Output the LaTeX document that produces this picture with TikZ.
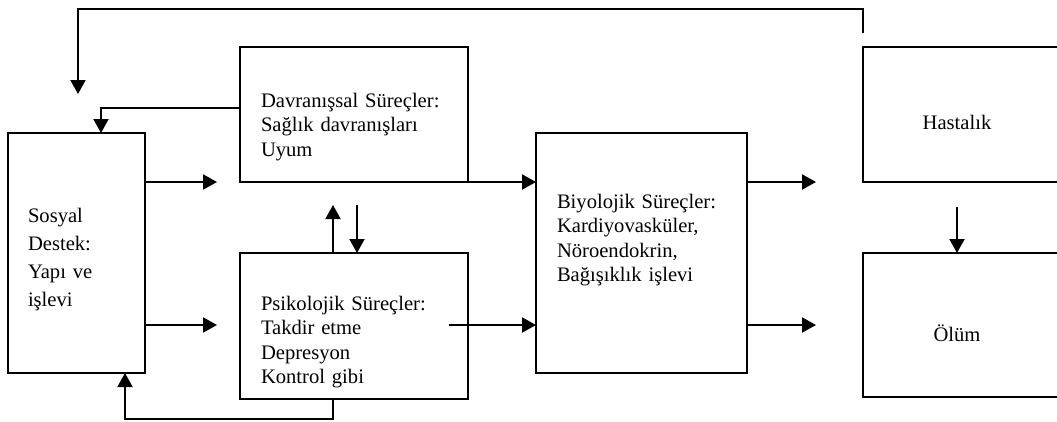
\documentclass[tikz,border=0pt]{standalone}
\usepackage{fontspec}
\setmainfont{Liberation Serif}
\usetikzlibrary{arrows.meta,calc}
\begin{document}
\begin{tikzpicture}[x=1pt,y=-1pt,line width=2pt,
  box/.style n args={2}{draw,line width=2pt,inner sep=0pt,outer sep=0pt,anchor=north west,minimum width=#1,minimum height=#2},
  txt/.style={inner sep=0pt,align=left,text width=220pt,anchor=base west,font=\fontsize{20.6}{24.5}\selectfont},
  ctxt/.style={inner sep=0pt,font=\fontsize{20.6}{24.5}\selectfont},
  arr/.style={-{Triangle[length=14pt,width=15pt]},line width=2pt}]
\useasboundingbox (0,0) rectangle (1057,421);
\clip (0,0) rectangle (1057,421);
% boxes
\node[box={137pt}{240pt}] (sosyal) at (8,133) {};
\node[box={228pt}{135pt}] (davran) at (240,47) {};
\node[box={228pt}{146pt}] (psiko) at (240,253) {};
\node[box={211pt}{240pt}] (biyo) at (536,133) {};
\node[box={200pt}{135pt}] (hasta) at (863,47) {};
\node[box={200pt}{144pt}] (olum) at (863,253) {};
% texts
\node[txt,font=\fontsize{20.6}{28}\selectfont] (tsos) at (27,222) {Sosyal\\Destek:\\Yapı ve\\işlevi};
\node[txt] (tdav) at (260,107) {Davranışsal Süreçler:\\Sağlık davranışları\\Uyum};
\node[txt] (tpsi) at (260,310) {Psikolojik Süreçler:\\Takdir etme\\Depresyon\\Kontrol gibi};
\node[txt] (tbiy) at (556,208) {Biyolojik Süreçler:\\Kardiyovasküler,\\Nöroendokrin,\\Bağışıklık işlevi};
\node[ctxt] (thas) at (957,122) {Hastalık};
\node[ctxt] (tolu) at (957,333) {Ölüm};
% free ends
\coordinate (topR) at (863,33);
\coordinate (topL) at (78,94);
\coordinate (a1) at (217,182);
\coordinate (a2) at (217,325);
\coordinate (s1) at (449,182);
\coordinate (s2) at (449,325);
\coordinate (u1) at (333,205);
\coordinate (d1) at (357,205);
\coordinate (b1) at (816,182);
\coordinate (b2) at (816,325);
\coordinate (h1) at (957,207);
\coordinate (bot) at (333,419);
% connectors
\draw[arr] (topR) -- ++(0,-24) -| (topL);
\draw[arr] ($(davran.west)+(0,-6.5)$) -| ($(sosyal.north)+(24.5,0)$);
\draw[arr] (sosyal.east |- a1) -- (a1);
\draw[arr] (sosyal.east |- a2) -- (a2);
\draw[arr] (s1) -- (biyo.west |- s1);
\draw[arr] (s2) -- (biyo.west |- s2);
\draw[arr] (psiko.north -| u1) -- (u1);
\draw[arr] (d1) -- (psiko.north -| d1);
\draw[arr] (psiko.south -| bot) -- (bot) -| ($(sosyal.south)+(48.5,0)$);
\draw[arr] (biyo.east |- b1) -- (b1);
\draw[arr] (biyo.east |- b2) -- (b2);
\draw[arr] (h1) -- (olum.north -| h1);
\end{tikzpicture}
\end{document}
